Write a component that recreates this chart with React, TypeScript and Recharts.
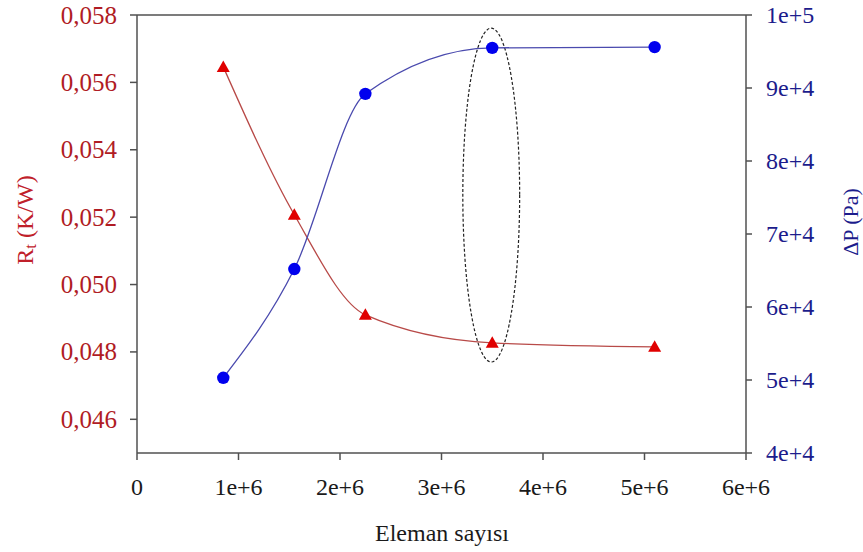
import React from "react"
import { LineChart, Line, XAxis, YAxis, ReferenceArea, ReferenceLine } from "recharts"

// eleman sayısı (x) ve iki seri
const elemanSayisi = [850000, 1550000, 2250000, 3500000, 5100000]
const rtValues = [0.05646, 0.05207, 0.0491, 0.04827, 0.04815]
const dpValues = [50300, 65200, 89200, 95500, 95600]

const xTicks = [0, 1000000, 2000000, 3000000, 4000000, 5000000, 6000000]
const xTickLabels = ["0", "1e+6", "2e+6", "3e+6", "4e+6", "5e+6", "6e+6"]
const rtTicks = [0.046, 0.048, 0.05, 0.052, 0.054, 0.056, 0.058]
const rtTickLabels = ["0,046", "0,048", "0,050", "0,052", "0,054", "0,056", "0,058"]
const dpTicks = [40000, 50000, 60000, 70000, 80000, 90000, 100000]
const dpTickLabels = ["4e+4", "5e+4", "6e+4", "7e+4", "8e+4", "9e+4", "1e+5"]

// işaretlenen bölge (elips)
const highlightX = [3210000, 3770000]
const highlightY = [0.0477, 0.05761]

const FONT = "Liberation Serif, DejaVu Serif, serif"
const AXIS = "#505050"

const data = elemanSayisi.map((x, i) => ({ x, rt: rtValues[i], dp: dpValues[i] }))

const Triangle = (props: any) => {
  const { cx, cy } = props
  if (cx == null || cy == null) return null
  return <polygon points={`${cx},${cy - 6.5} ${cx - 6.5},${cy + 5} ${cx + 6.5},${cy + 5}`} fill="#e00000" />
}

const Dot = (props: any) => {
  const { cx, cy } = props
  if (cx == null || cy == null) return null
  return <circle cx={cx} cy={cy} r={6.2} fill="#0000ee" />
}

const lookup = (ticks: number[], labels: string[], v: number) => {
  const i = ticks.findIndex((t) => Math.abs(t - v) < 1e-9 * Math.max(1, Math.abs(t)))
  return i >= 0 ? labels[i] : String(v)
}

// tick bileşenleri (serif yazı için)
const makeTick = (ticks: number[], labels: string[], color: string, anchor: string, dy: string, size: number) =>
  (props: any) => {
    const { x, y, payload } = props
    return (
      <text
        x={x}
        y={y}
        dy={dy}
        textAnchor={anchor}
        fill={color}
        style={{ fontFamily: FONT, fontSize: size }}
      >
        {lookup(ticks, labels, payload.value)}
      </text>
    )
  }

const XTick = makeTick(xTicks, xTickLabels, "#1a1a1a", "middle", "0.71em", 24)
const LeftTick = makeTick(rtTicks, rtTickLabels, "#b01c24", "end", "0.34em", 25)
const RightTick = makeTick(dpTicks, dpTickLabels, "#1c1c8c", "start", "0.34em", 24)

const labelStyle = { fontFamily: FONT }

export default function App() {
  return (
    <div style={{ position: "absolute", left: 0, top: 0, background: "#fff", fontFamily: FONT }}>
      <LineChart
        width={863}
        height={552}
        data={data}
        margin={{ top: 15, right: 37, left: 0, bottom: 39 }}
      >
        <XAxis
          dataKey="x"
          type="number"
          domain={[0, 6000000]}
          ticks={xTicks}
          height={60}
          tickSize={7}
          tickMargin={18}
          stroke={AXIS}
          strokeWidth={1.5}
          tick={<XTick />}
          label={{
            content: () => (
              <text x={442} y={541} textAnchor="middle" fill="#1a1a1a" style={{ ...labelStyle, fontSize: 24 }}>
                Eleman sayısı
              </text>
            ),
          }}
        />
        <YAxis
          yAxisId="left"
          type="number"
          domain={[0.045, 0.058]}
          ticks={rtTicks}
          width={137}
          tickSize={7}
          tickMargin={13}
          stroke={AXIS}
          strokeWidth={1.5}
          allowDataOverflow
          tick={<LeftTick />}
          label={{
            content: () => (
              <text
                x={25}
                y={220}
                transform="rotate(-90 25 220)"
                textAnchor="middle"
                dominantBaseline="central"
                fill="#c0202a"
                style={{ ...labelStyle, fontSize: 24 }}
              >
                R
                <tspan fontSize={17} dy={5}>t</tspan>
                <tspan dy={-5}> (K/W)</tspan>
              </text>
            ),
          }}
        />
        <YAxis
          yAxisId="right"
          orientation="right"
          type="number"
          domain={[40000, 100000]}
          ticks={dpTicks}
          width={80}
          tickSize={6}
          tickMargin={14}
          stroke={AXIS}
          strokeWidth={1.5}
          allowDataOverflow
          tick={<RightTick />}
          label={{
            content: () => (
              <text
                x={850}
                y={222}
                transform="rotate(-90 850 222)"
                textAnchor="middle"
                dominantBaseline="central"
                fill="#1c1c8c"
                style={{ ...labelStyle, fontSize: 22 }}
              >
                ΔP (Pa)
              </text>
            ),
          }}
        />
        <ReferenceLine yAxisId="left" y={0.058} stroke={AXIS} strokeWidth={1.5} />
        <ReferenceArea
          yAxisId="left"
          x1={highlightX[0]}
          x2={highlightX[1]}
          y1={highlightY[0]}
          y2={highlightY[1]}
          shape={(p: any) => (
            <ellipse
              cx={p.x + p.width / 2}
              cy={p.y + p.height / 2}
              rx={Math.abs(p.width) / 2}
              ry={Math.abs(p.height) / 2}
              fill="none"
              stroke="#222"
              strokeWidth={1.2}
              strokeDasharray="3 2"
            />
          )}
        />
        <Line
          yAxisId="left"
          type="monotone"
          dataKey="rt"
          stroke="#b84a48"
          strokeWidth={1.3}
          dot={<Triangle />}
          activeDot={false}
          isAnimationActive={false}
        />
        <Line
          yAxisId="right"
          type="monotone"
          dataKey="dp"
          stroke="#4a4aae"
          strokeWidth={1.3}
          dot={<Dot />}
          activeDot={false}
          isAnimationActive={false}
        />
      </LineChart>
    </div>
  )
}
